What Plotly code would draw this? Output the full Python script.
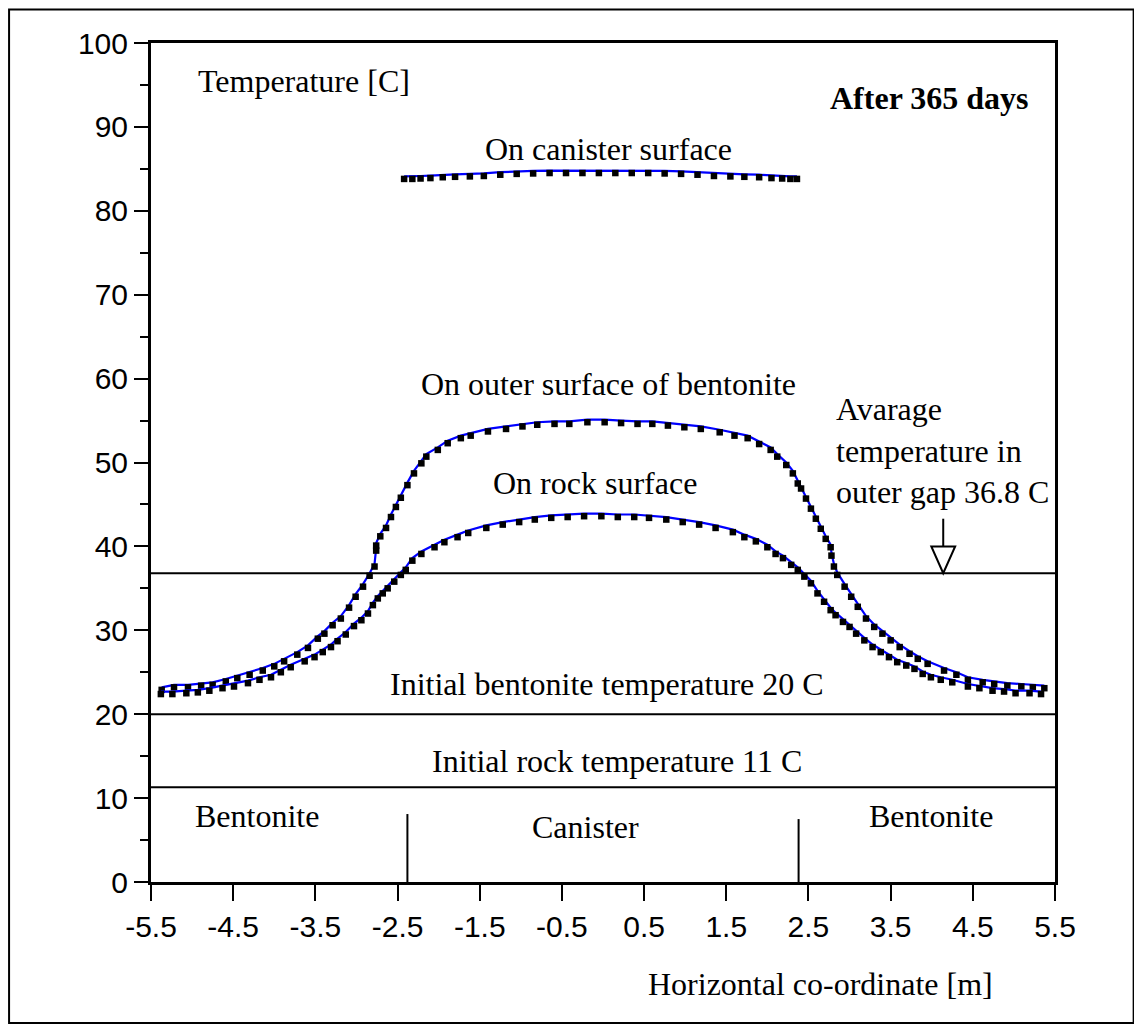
import plotly.graph_objects as go

# ---------------- data ----------------
canister_x = [-2.42, -2.32, -2.22, -2.10, -1.95, -1.80, -1.62, -1.45, -1.25, -1.05, -0.85, -0.65, -0.45,
              -0.25, -0.05, 0.15, 0.35, 0.55, 0.75, 0.95, 1.15, 1.35, 1.55, 1.72, 1.90, 2.05, 2.18, 2.28, 2.36]
canister_y = [84.1, 84.1, 84.15, 84.2, 84.3, 84.35, 84.4, 84.45, 84.6, 84.7, 84.75, 84.8, 84.8,
              84.8, 84.8, 84.8, 84.8, 84.8, 84.75, 84.7, 84.6, 84.45, 84.4, 84.35, 84.3, 84.2, 84.15, 84.1, 84.1]

bent_x = [-5.37, -5.22, -5.05, -4.89, -4.75, -4.59, -4.45, -4.30, -4.14, -4.00,
          -3.88, -3.72, -3.59, -3.47, -3.39, -3.29, -3.19, -3.09, -3.01, -2.92,
          -2.84, -2.78, -2.76, -2.76, -2.71, -2.64, -2.58, -2.52, -2.46, -2.38,
          -2.30, -2.21, -2.15, -2.01, -1.89, -1.73, -1.61, -1.40, -1.18, -0.98,
          -0.80, -0.59, -0.41, -0.19, 0.02, 0.22, 0.42, 0.60, 0.79, 0.99,
          1.19, 1.42, 1.60, 1.76, 1.90, 2.04, 2.12, 2.23, 2.31, 2.37,
          2.41, 2.47, 2.53, 2.59, 2.65, 2.71, 2.77, 2.78, 2.81, 2.85,
          2.94, 3.02, 3.10, 3.20, 3.30, 3.40, 3.50, 3.61, 3.73, 3.83,
          3.95, 4.15, 4.30, 4.44, 4.62, 4.76, 4.92, 5.09, 5.23, 5.37]
bent_y = [23.2, 23.5, 23.5, 23.7, 23.8, 24.2, 24.6, 25.0, 25.5, 26.0,
          26.6, 27.4, 28.2, 29.3, 29.9, 30.9, 31.7, 33.0, 34.3, 35.5,
          36.8, 37.9, 39.8, 40.4, 41.5, 42.5, 43.8, 45.0, 46.1, 47.6,
          49.0, 50.2, 51.0, 51.8, 52.6, 53.2, 53.5, 54.0, 54.3, 54.6,
          54.8, 54.9, 54.9, 55.1, 55.1, 55.0, 54.9, 54.9, 54.7, 54.5,
          54.3, 53.9, 53.5, 53.2, 52.5, 51.8, 51.0, 50.0, 49.0, 47.8,
          47.2, 46.0, 44.8, 43.6, 42.4, 41.2, 40.2, 39.2, 37.9, 36.9,
          35.5, 34.3, 33.1, 31.7, 30.7, 29.9, 29.1, 28.3, 27.5, 26.9,
          26.3, 25.5, 25.0, 24.4, 24.1, 23.9, 23.7, 23.6, 23.5, 23.4]

rock_x = [-5.38, -5.24, -5.07, -4.93, -4.79, -4.63, -4.49, -4.32, -4.18, -4.04,
          -3.92, -3.80, -3.63, -3.51, -3.41, -3.31, -3.23, -3.13, -3.03, -2.94,
          -2.86, -2.80, -2.74, -2.68, -2.62, -2.54, -2.46, -2.40, -2.32, -2.21,
          -2.05, -1.93, -1.77, -1.64, -1.42, -1.22, -1.02, -0.83, -0.63, -0.43,
          -0.23, -0.02, 0.18, 0.38, 0.56, 0.77, 0.97, 1.17, 1.37, 1.58,
          1.72, 1.86, 2.00, 2.10, 2.19, 2.29, 2.37, 2.45, 2.53, 2.61,
          2.69, 2.77, 2.83, 2.92, 3.00, 3.08, 3.18, 3.28, 3.38, 3.48,
          3.58, 3.69, 3.79, 3.89, 3.99, 4.11, 4.25, 4.44, 4.58, 4.74,
          4.88, 5.02, 5.19, 5.33]
rock_y = [22.7, 22.7, 22.8, 22.9, 23.1, 23.4, 23.6, 24.0, 24.4, 24.7,
          25.3, 25.9, 26.6, 27.1, 27.7, 28.3, 29.0, 29.8, 30.8, 31.5,
          32.3, 33.3, 34.1, 34.7, 35.3, 36.1, 36.9, 37.5, 38.6, 39.4,
          40.2, 40.8, 41.4, 41.9, 42.5, 42.9, 43.2, 43.5, 43.7, 43.8,
          43.9, 43.9, 43.8, 43.8, 43.7, 43.5, 43.2, 42.9, 42.5, 42.0,
          41.4, 40.9, 40.2, 39.4, 38.9, 38.1, 37.5, 36.7, 35.9, 34.7,
          33.7, 32.7, 32.1, 31.3, 30.7, 29.9, 29.1, 28.3, 27.7, 27.1,
          26.5, 26.1, 25.7, 25.1, 24.7, 24.4, 24.1, 23.6, 23.4, 23.1,
          23.0, 22.8, 22.8, 22.7]

ref_levels = [36.8, 20.0, 11.3]          # avg gap temp, initial bentonite, initial rock
divider_x = [-2.38, 2.38]                # canister / bentonite boundaries
divider_top = [8.1, 7.5]
arrow_x = 4.14
x_ticks = [-5.5, -4.5, -3.5, -2.5, -1.5, -0.5, 0.5, 1.5, 2.5, 3.5, 4.5, 5.5]
y_ticks = [0, 10, 20, 30, 40, 50, 60, 70, 80, 90, 100]

# ---------------- figure ----------------
SERIF = "Liberation Serif, Times New Roman, serif"
SANS = "Liberation Sans, Arial, sans-serif"
BLUE = "#0000ff"

fig = go.Figure()
for xs, ys in [(canister_x, canister_y), (bent_x, bent_y), (rock_x, rock_y)]:
    fig.add_trace(go.Scatter(x=xs, y=ys, mode="lines", line=dict(color=BLUE, width=2.2),
                             showlegend=False, hoverinfo="skip"))
    fig.add_trace(go.Scatter(x=xs, y=[v - 0.3 for v in ys], mode="markers",
                             marker=dict(symbol="square", size=6.5, color="black"),
                             showlegend=False, hoverinfo="skip"))

shapes = []
for lv in ref_levels:
    shapes.append(dict(type="line", xref="x", yref="y", x0=-5.5, x1=5.5, y0=lv, y1=lv,
                       line=dict(color="black", width=2)))
for dx, dt in zip(divider_x, divider_top):
    shapes.append(dict(type="line", xref="x", yref="y", x0=dx, x1=dx, y0=0, y1=dt,
                       line=dict(color="black", width=2)))
# arrow pointing at the average-gap line
shapes.append(dict(type="line", xref="x", yref="y", x0=arrow_x, x1=arrow_x, y0=43.3, y1=40.0,
                   line=dict(color="black", width=2)))
shapes.append(dict(type="path", xref="x", yref="y",
                   path=f"M {arrow_x-0.145},40.0 L {arrow_x+0.145},40.0 L {arrow_x},{ref_levels[0]} Z",
                   fillcolor="white", line=dict(color="black", width=2)))
# outer frame
shapes.append(dict(type="rect", xref="paper", yref="paper", x0=-0.157, x1=1.087, y0=-0.168, y1=1.040,
                   line=dict(color="black", width=2), layer="below"))

ann_font = dict(family=SERIF, size=32, color="black")
annotations = [
    dict(x=-4.95, y=95.5, text="Temperature [C]", xanchor="left"),
    dict(x=5.21, y=93.4, text="<b>After 365 days</b>", xanchor="right"),
    dict(x=0.07, y=87.4, text="On canister surface"),
    dict(x=0.07, y=59.4, text="On outer surface of bentonite"),
    dict(x=-0.1, y=47.6, text="On rock surface"),
    dict(x=2.81, y=51.4, text="Avarage<br>temperature in<br>outer gap 36.8 C", xanchor="left", align="left"),
    dict(x=0.05, y=23.6, text="Initial bentonite temperature 20 C"),
    dict(x=0.17, y=14.4, text="Initial rock temperature 11 C"),
    dict(x=-4.21, y=7.9, text="Bentonite"),
    dict(x=-0.21, y=6.6, text="Canister"),
    dict(x=3.99, y=7.9, text="Bentonite"),
]
for a in annotations:
    a.setdefault("xanchor", "center")
    a.update(xref="x", yref="y", showarrow=False, font=ann_font, yanchor="middle")
annotations.append(dict(x=0.741, y=-0.1216, xref="paper", yref="paper", text="Horizontal co-ordinate [m]",
                        showarrow=False, font=ann_font, xanchor="center", yanchor="middle"))

fig.update_layout(
    width=1142, height=1032, autosize=False,
    margin=dict(l=143, r=95, t=35, b=158),
    paper_bgcolor="white", plot_bgcolor="white",
    shapes=shapes, annotations=annotations,
    showlegend=False,
)
fig.update_xaxes(range=[-5.5, 5.5], tickvals=x_ticks, ticktext=[f"{v:g}" for v in x_ticks],
                 showgrid=False, zeroline=False, showline=True, linecolor="black", linewidth=3,
                 mirror=True, ticks="outside", ticklen=16, tickwidth=2, tickcolor="black",
                 tickfont=dict(family=SANS, size=30, color="black"))
fig.update_yaxes(range=[0, 100], tickvals=y_ticks, showgrid=False, zeroline=False, showline=True,
                 linecolor="black", linewidth=3, mirror=True, ticks="outside", ticklen=14, tickwidth=2,
                 tickcolor="black", tickfont=dict(family=SANS, size=30, color="black"),
                 minor=dict(dtick=5, ticks="outside", ticklen=8, tickwidth=2, tickcolor="black", showgrid=False))

fig.write_html("out.html")
